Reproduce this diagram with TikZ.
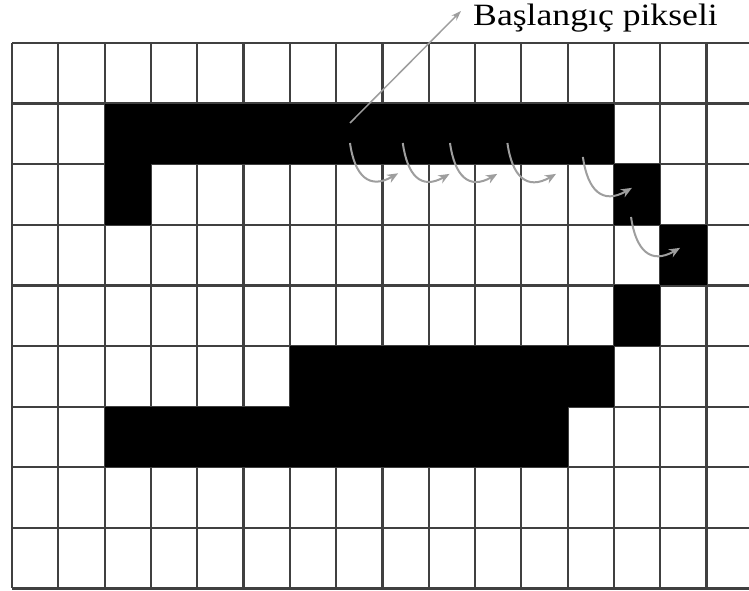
\documentclass[tikz,border=0pt]{standalone}
\usepackage{fontspec}
\setmainfont{Liberation Serif}
\usepackage{tikz}
\usetikzlibrary{arrows.meta, positioning}

\begin{document}
\begin{tikzpicture}[x=1pt, y=-1pt,
        gridline/.style={line width=2.2pt, black!75},
        pixel/.style={fill=black},
        trace/.style={black!38, line width=2pt, -{Stealth[length=11pt, width=9pt]}},
        pointer/.style={black!38, line width=1.5pt, -{Stealth[length=10pt, width=7pt]}},
        caption/.style={font=\fontsize{31}{36}\selectfont, xscale=1.15, anchor=base west, inner sep=0pt}
    ]
        \useasboundingbox (0,0) rectangle (749,591);
        \clip (0,0) rectangle (749,591);

        % grid of pixels
        \begin{scope}[shift={(12,43)}, x=46.3pt, y=-60.6pt]
            \foreach \r in {0,...,9}
                \draw[gridline] (0,\r) -- (16,\r);
            \foreach \c in {0,...,16}
                \draw[gridline] (\c,0) -- (\c,9);
            \foreach \c/\r in {2/1,3/1,4/1,5/1,6/1,7/1,8/1,9/1,10/1,11/1,12/1,
                               2/2,13/2,14/3,13/4,
                               6/5,7/5,8/5,9/5,10/5,11/5,12/5,
                               2/6,3/6,4/6,5/6,6/6,7/6,8/6,9/6,10/6,11/6}
                \fill[pixel] (\c,\r) rectangle ++(1,1);

            % trace points
            \coordinate (s1) at (7.30,1.65);  \coordinate (e1) at (8.34,2.15);
            \coordinate (s2) at (8.44,1.65);  \coordinate (e2) at (9.45,2.16);
            \coordinate (s3) at (9.46,1.65);  \coordinate (e3) at (10.48,2.16);
            \coordinate (s4) at (10.7,1.65);  \coordinate (e4) at (11.75,2.16);
            \coordinate (s5) at (12.33,1.88); \coordinate (e5) at (13.39,2.39);
            \coordinate (s6) at (13.37,2.87); \coordinate (e6) at (14.43,3.38);
            \coordinate (start) at (7.3,1.32);
        \end{scope}

        % label
        \node[caption] (label) at (473,26) {Başlangıç pikseli};
        \coordinate (tip) at (461,11);

        \draw[pointer] (start) -- (tip);
        \foreach \i in {1,...,6}
            \draw[trace] (s\i) to[out=-82, in=210, looseness=1.5] (e\i);

    \end{tikzpicture}
\end{document}
